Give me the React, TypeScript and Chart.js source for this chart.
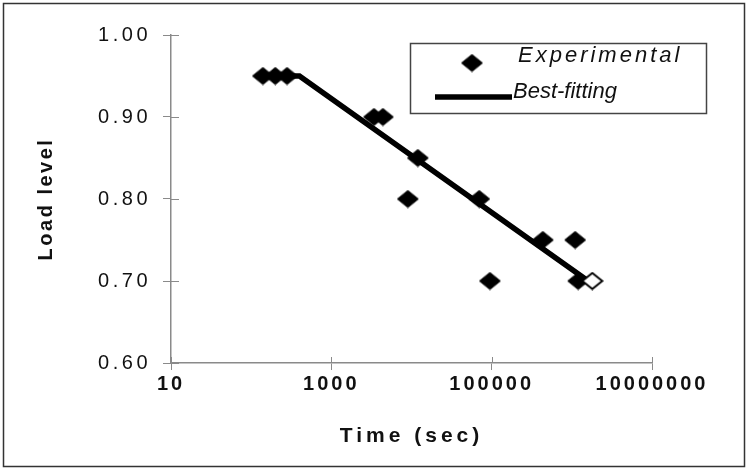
import React, { useEffect, useRef } from 'react';
import { Chart, registerables } from 'chart.js';

Chart.register(...registerables);

// ---- data ----
const expTime = [140, 200, 280, 3400, 4400, 9000, 12000, 70000, 95000, 435000, 1100000, 1200000];
const expLoad = [0.95, 0.95, 0.95, 0.9, 0.9, 0.8, 0.85, 0.8, 0.7, 0.75, 0.75, 0.7];
const openTime = [1800000];
const openLoad = [0.7];
const fitTime = [140, 400, 1600000];
const fitLoad = [0.95, 0.95, 0.7];
const xTickValues = [10, 1000, 100000, 10000000];
const xTickLabels = ['10', '1000', '100000', '10000000'];
const yTickValues = [0.6, 0.7, 0.8, 0.9, 1.0];
const seriesLabels = ['Experimental', 'Best-fitting'];
const xTitle = 'Time (sec)';
const yTitle = 'Load level';

const FONT = "'Liberation Sans', Arial, sans-serif";
const AXIS = '#8a8a8a';
const TEXT = '#111';

function makeDiamond(w: number, h: number, fill: string, stroke: string, lw: number) {
  const c = document.createElement('canvas');
  c.width = w;
  c.height = h;
  const g = c.getContext('2d')!;
  const i = lw / 2 + 0.5;
  g.beginPath();
  g.moveTo(w / 2, i);
  g.lineTo(w - i, h / 2);
  g.lineTo(w / 2, h - i);
  g.lineTo(i, h / 2);
  g.closePath();
  g.fillStyle = fill;
  g.fill();
  g.lineWidth = lw;
  g.strokeStyle = stroke;
  g.stroke();
  return c;
}

export default function App() {
  const ref = useRef<HTMLCanvasElement>(null);

  useEffect(() => {
    const canvas = ref.current!;
    const solid = makeDiamond(23, 19, '#000', '#000', 1);
    const open = makeDiamond(23, 19, '#fff', '#000', 2);

    const spacingPlugin = {
      id: 'spacing',
      beforeDraw(chart: any) {
        const patch = (scale: any, labelSp: string, titleSp: string) => {
          if (scale.__patched) return;
          scale.__patched = true;
          const dl = scale.drawLabels.bind(scale);
          scale.drawLabels = (ca: any) => {
            const c = chart.ctx;
            c.save();
            c.letterSpacing = labelSp;
            dl(ca);
            c.restore();
          };
          const dt = scale.drawTitle.bind(scale);
          scale.drawTitle = (ca: any) => {
            const c = chart.ctx;
            c.save();
            c.letterSpacing = titleSp;
            dt(ca);
            c.restore();
          };
        };
        patch(chart.scales.x, '3px', '4px');
        patch(chart.scales.y, '3.5px', '2.5px');
      },
    };

    const decorPlugin = {
      id: 'decor',
      afterDraw(chart: any) {
        const { ctx, chartArea, scales } = chart;
        const { x, y } = scales;
        ctx.save();
        // inward halves of the tick crosses
        ctx.strokeStyle = AXIS;
        ctx.lineWidth = 1;
        ctx.beginPath();
        for (const t of y.ticks) {
          const py = Math.round(y.getPixelForValue(t.value)) + 0.5;
          ctx.moveTo(chartArea.left, py);
          ctx.lineTo(chartArea.left + 8, py);
        }
        for (const t of x.ticks) {
          const px = Math.round(x.getPixelForValue(t.value)) + 0.5;
          ctx.moveTo(px, chartArea.bottom);
          ctx.lineTo(px, chartArea.bottom - 6);
        }
        ctx.stroke();

        // legend box
        ctx.strokeStyle = '#444';
        ctx.lineWidth = 1.5;
        ctx.strokeRect(410.5, 43.5, 296, 70);
        ctx.drawImage(solid, 472 - solid.width / 2, 63 - solid.height / 2);
        ctx.strokeStyle = '#000';
        ctx.lineWidth = 5.5;
        ctx.beginPath();
        ctx.moveTo(435, 97);
        ctx.lineTo(512, 97);
        ctx.stroke();
        ctx.fillStyle = TEXT;
        ctx.font = `italic 22px ${FONT}`;
        ctx.textBaseline = 'alphabetic';
        ctx.textAlign = 'left';
        (ctx as any).letterSpacing = '3px';
        ctx.fillText(chart.data.datasets[1].label, 518, 62);
        (ctx as any).letterSpacing = '0px';
        ctx.fillText(chart.data.datasets[0].label, 513, 98);

        // outer frame
        ctx.strokeStyle = '#333';
        ctx.lineWidth = 1.5;
        ctx.strokeRect(3.5, 3.5, 741, 463);
        ctx.restore();
      },
    };

    const chart = new Chart(canvas, {
      type: 'scatter',
      data: {
        datasets: [
          {
            label: seriesLabels[1],
            data: fitTime.map((t, i) => ({ x: t, y: fitLoad[i] })),
            showLine: true,
            borderColor: '#000',
            backgroundColor: '#000',
            borderWidth: 5.5,
            pointRadius: 0,
            tension: 0,
            order: 3,
          } as any,
          {
            label: seriesLabels[0],
            data: expTime.map((t, i) => ({ x: t, y: expLoad[i] })),
            pointStyle: solid,
            pointRadius: 11,
            borderWidth: 0,
            order: 2,
          } as any,
          {
            label: seriesLabels[0] + ' (open)',
            data: openTime.map((t, i) => ({ x: t, y: openLoad[i] })),
            pointStyle: open,
            pointRadius: 11,
            borderWidth: 0,
            order: 1,
          } as any,
        ],
      },
      options: {
        responsive: false,
        animation: false,
        devicePixelRatio: 1,
        layout: { padding: { left: 0, right: 97, top: 35, bottom: 0 } },
        plugins: { legend: { display: false }, tooltip: { enabled: false } },
        scales: {
          x: {
            type: 'logarithmic',
            min: 10,
            max: 10000000,
            afterBuildTicks: (s: any) => {
              s.ticks = xTickValues.map((v) => ({ value: v }));
            },
            afterFit: (s: any) => {
              s.height = 108;
            },
            ticks: {
              autoSkip: false,
              maxRotation: 0,
              padding: 2,
              color: TEXT,
              font: { family: FONT, size: 20, weight: 'bold' },
              callback: (v: any) => {
                const i = xTickValues.indexOf(Number(v));
                return i >= 0 ? xTickLabels[i] : '';
              },
            },
            grid: { display: true, drawOnChartArea: false, drawTicks: true, tickLength: 7, color: AXIS, lineWidth: 1 },
            border: { display: true, color: AXIS, width: 1.5 },
            title: {
              display: true,
              text: xTitle,
              color: TEXT,
              font: { family: FONT, size: 21, weight: 'bold' },
              padding: { top: 0, bottom: 22 },
            },
          },
          y: {
            min: 0.6,
            max: 1.0,
            afterBuildTicks: (s: any) => {
              s.ticks = yTickValues.map((v) => ({ value: v }));
            },
            afterFit: (s: any) => {
              s.width = 171;
            },
            ticks: {
              autoSkip: false,
              padding: 12,
              color: TEXT,
              font: { family: FONT, size: 20 },
              callback: (v: any) => Number(v).toFixed(2),
            },
            grid: { display: true, drawOnChartArea: false, drawTicks: true, tickLength: 8, color: AXIS, lineWidth: 1 },
            border: { display: true, color: AXIS, width: 1.5 },
            title: {
              display: true,
              text: yTitle,
              color: TEXT,
              font: { family: FONT, size: 20, weight: 'bold' },
              padding: { top: 34, bottom: 0 },
            },
          },
        },
      } as any,
      plugins: [spacingPlugin, decorPlugin],
    });

    return () => chart.destroy();
  }, []);

  return (
    <div style={{ position: 'absolute', left: 0, top: 0, width: 749, height: 471, background: '#fff' }}>
      <canvas ref={ref} width={749} height={471} style={{ display: 'block' }} />
    </div>
  );
}
